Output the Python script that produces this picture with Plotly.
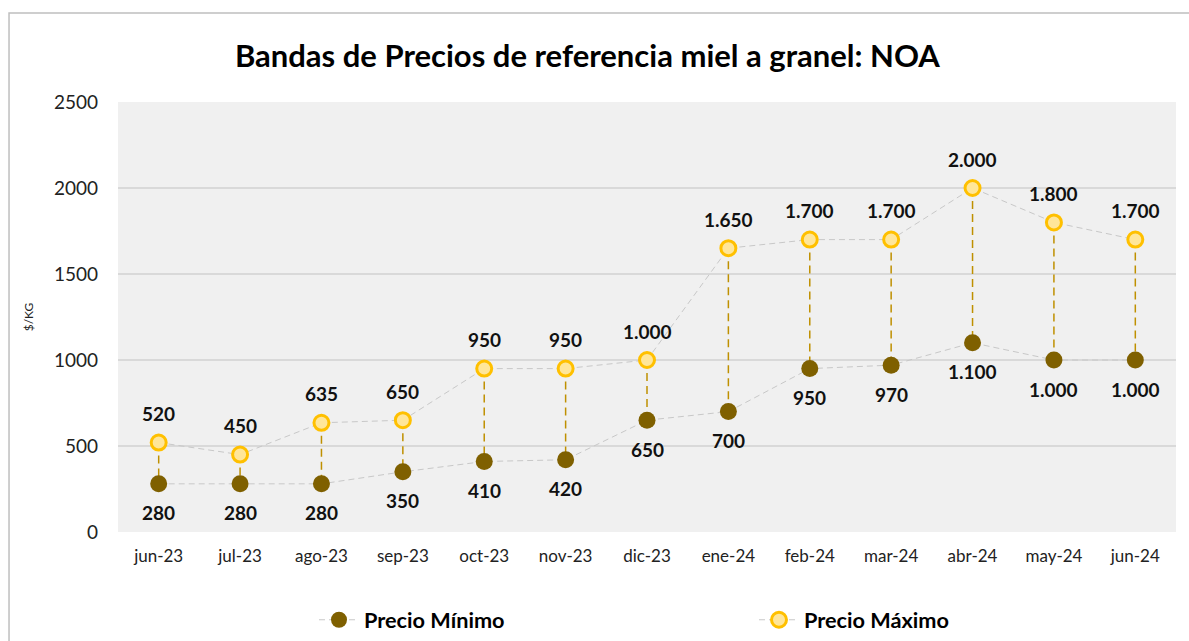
import plotly.graph_objects as go

categories = ["jun-23", "jul-23", "ago-23", "sep-23", "oct-23", "nov-23", "dic-23",
              "ene-24", "feb-24", "mar-24", "abr-24", "may-24", "jun-24"]
precio_min = [280, 280, 280, 350, 410, 420, 650, 700, 950, 970, 1100, 1000, 1000]
precio_max = [520, 450, 635, 650, 950, 950, 1000, 1650, 1700, 1700, 2000, 1800, 1700]
y_ticks = [0, 500, 1000, 1500, 2000, 2500]

FONT = "Lato, 'Open Sans', sans-serif"


def fmt(v):
    return f"{v:,}".replace(",", ".")


fig = go.Figure()

# drop lines between max and min
dx, dy = [], []
for c, lo, hi in zip(categories, precio_min, precio_max):
    dx += [c, c, None]
    dy += [hi, lo, None]
fig.add_trace(go.Scatter(x=dx, y=dy, mode="lines", showlegend=False, hoverinfo="skip",
                         line=dict(color="#BF9000", width=1.5, dash="8px,5px")))

fig.add_trace(go.Scatter(
    x=categories, y=precio_min, name="Precio Mínimo", mode="lines+markers",
    line=dict(color="#C8C8C8", width=1, dash="6px,4px"),
    marker=dict(size=17, color="#7F6000", line=dict(width=0)),
    legend="legend",
))
fig.add_trace(go.Scatter(
    x=categories, y=precio_max, name="Precio Máximo", mode="lines+markers",
    line=dict(color="#C8C8C8", width=1, dash="6px,4px"),
    marker=dict(size=15, color="#FFE699", line=dict(width=3, color="#FFC000")),
    legend="legend2",
))

for c, v in zip(categories, precio_max):
    fig.add_annotation(x=c, y=v, text=fmt(v), showarrow=False, yshift=29,
                       font=dict(family=FONT, size=19, color="#111111", weight="bold"))
for c, v in zip(categories, precio_min):
    fig.add_annotation(x=c, y=v, text=fmt(v), showarrow=False, yshift=-29,
                       font=dict(family=FONT, size=19, color="#111111", weight="bold"))

# outer frame
fig.add_shape(type="rect", xref="paper", yref="paper", x0=-0.103, x1=1.05, y0=-0.4, y1=1.207,
              line=dict(color="#BFBFBF", width=1.5), layer="below")

W = 1058.0
leg_font = dict(size=21.7, color="#000000", weight="bold")
fig.update_layout(
    width=1189, height=641,
    margin=dict(l=118, r=13, t=102, b=109, autoexpand=False),
    paper_bgcolor="white", plot_bgcolor="#F0F0F0",
    font=dict(family=FONT, size=17, color="#222222"),
    title=dict(text="<b>Bandas de Precios de referencia miel a granel: NOA</b>",
               x=0.494, xanchor="center", y=0.912, yanchor="middle",
               font=dict(family=FONT, size=31, color="#000000")),
    xaxis=dict(type="category", range=[-0.5, 12.5], showgrid=False, zeroline=False,
               ticks="", tickfont=dict(size=17), showline=False, ticklabelstandoff=12),
    yaxis=dict(range=[0, 2500], tickvals=y_ticks, showgrid=True, gridcolor="#D9D9D9",
               gridwidth=1.5, zeroline=False, ticks="", tickfont=dict(size=19),
               ticklabelstandoff=19,
               title=dict(text="$/KG", font=dict(size=12), standoff=17)),
    legend=dict(orientation="h", x=(314 - 118) / W, xanchor="left", y=-0.205, yanchor="middle",
                font=leg_font, itemwidth=40, bgcolor="rgba(0,0,0,0)"),
    legend2=dict(orientation="h", x=(754 - 118) / W, xanchor="left", y=-0.205, yanchor="middle",
                 font=leg_font, itemwidth=40, bgcolor="rgba(0,0,0,0)"),
    showlegend=True,
)

fig.write_html("out.html", post_script="document.body.style.margin='0';",
               config={"displayModeBar": False})
